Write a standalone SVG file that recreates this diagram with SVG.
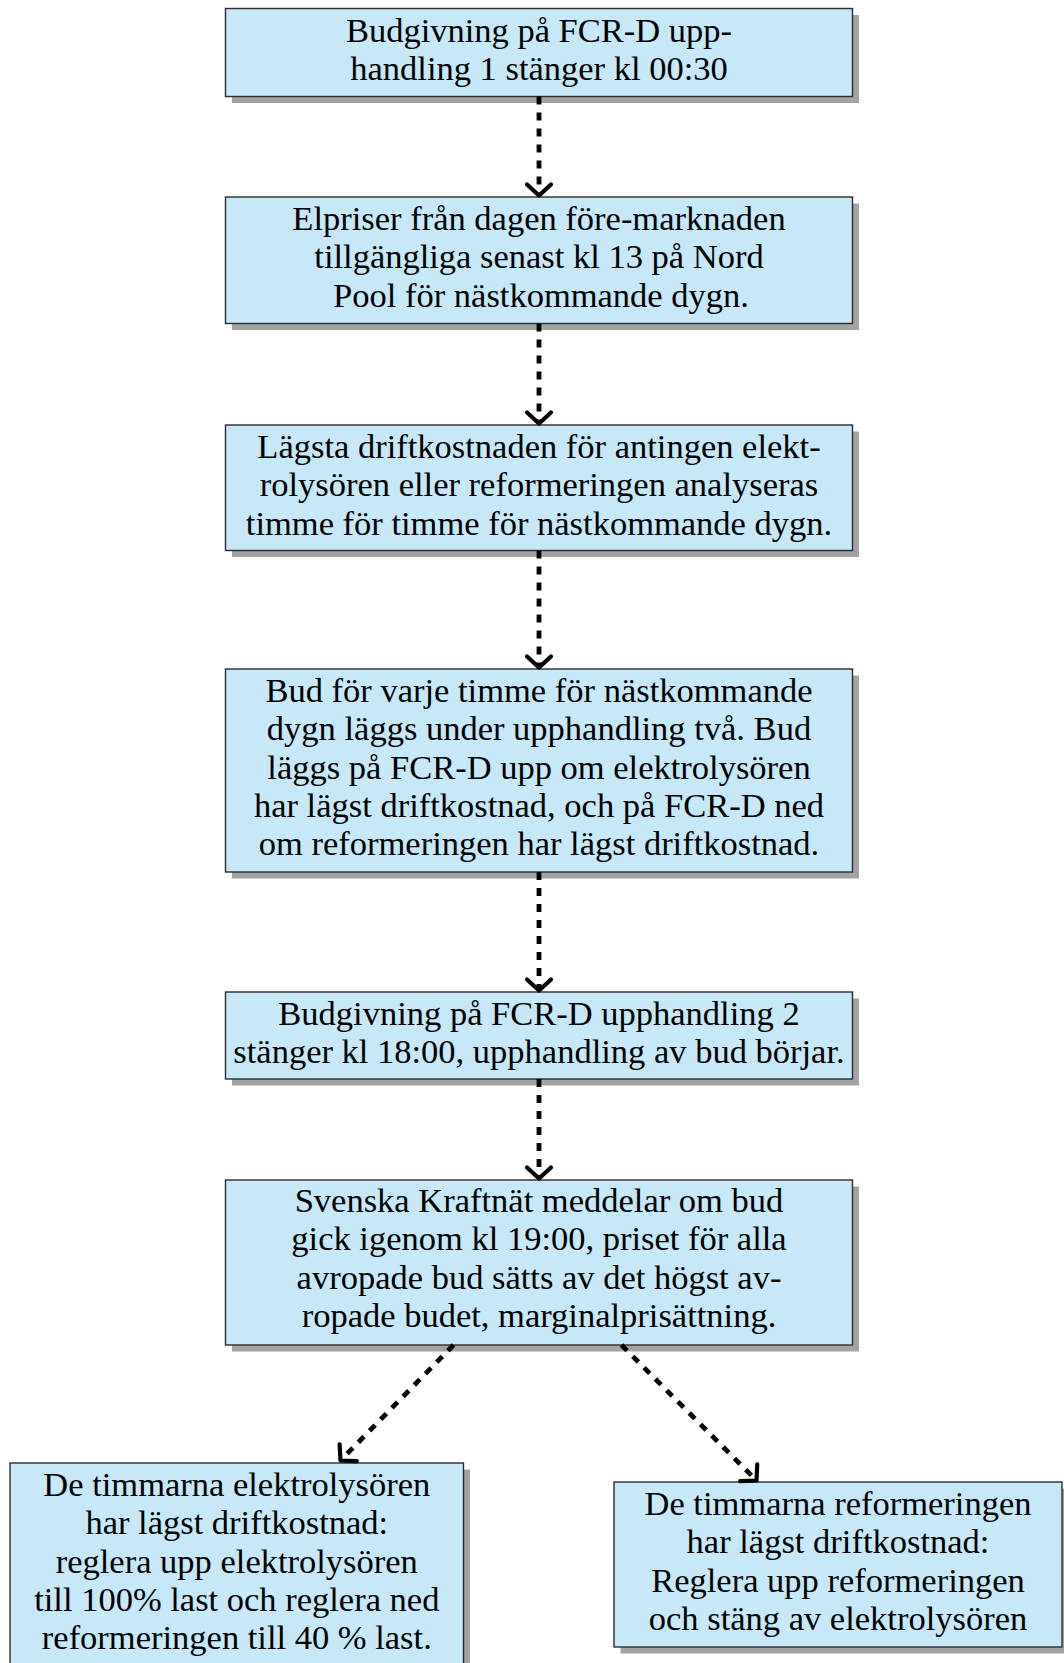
<svg xmlns="http://www.w3.org/2000/svg" width="1064" height="1663" viewBox="0 0 1064 1663">
  <style>
    .shadow { fill: #a3a3a3; }
    .box { fill: #c6e8f8; stroke: #2b2b2b; stroke-width: 1.4; }
    .label { font-family: "Liberation Serif", "Times New Roman", serif; font-size: 34.5px; fill: #000; text-anchor: middle; }
    .flow { fill: none; stroke: #000; stroke-width: 4.8; stroke-dasharray: 8 8; marker-end: url(#chev); }
  </style>
  <defs>
    <marker id="chev" markerUnits="userSpaceOnUse" markerWidth="40" markerHeight="40" refX="0" refY="0" viewBox="-20 -20 40 40" orient="auto" overflow="visible">
      <path d="M-11,-12 L0,0 L-11,12" fill="none" stroke="#000" stroke-width="4.2" stroke-linecap="round" stroke-linejoin="round"/>
    </marker>
  </defs>

  <rect width="1064" height="1663" fill="#fff"/>

  <!-- Nodes -->
  <g id="n1">
    <rect class="shadow" x="232" y="15" width="627" height="88"/>
    <rect class="box" x="225.5" y="8.5" width="627" height="88"/>
    <text class="label" x="539" y="41.5">Budgivning på FCR-D upp-</text>
    <text class="label" x="539" y="79.8">handling 1 stänger kl 00:30</text>
  </g>

  <g id="n2">
    <rect class="shadow" x="232" y="203.5" width="627" height="126.5"/>
    <rect class="box" x="225.5" y="197" width="627" height="126.5"/>
    <text class="label" x="539" y="230">Elpriser från dagen före-marknaden</text>
    <text class="label" x="539" y="268.3">tillgängliga senast kl 13 på Nord</text>
    <text class="label" x="541" y="306.6">Pool för nästkommande dygn.</text>
  </g>

  <g id="n3">
    <rect class="shadow" x="232" y="431.5" width="627" height="125.5"/>
    <rect class="box" x="225.5" y="425" width="627" height="125.5"/>
    <text class="label" x="539" y="458">Lägsta driftkostnaden för antingen elekt-</text>
    <text class="label" x="539" y="496.3">rolysören eller reformeringen analyseras</text>
    <text class="label" x="539" y="534.6">timme för timme för nästkommande dygn.</text>
  </g>

  <g id="n4">
    <rect class="shadow" x="232" y="675.5" width="627" height="203"/>
    <rect class="box" x="225.5" y="669" width="627" height="203"/>
    <text class="label" x="539" y="702">Bud för varje timme för nästkommande</text>
    <text class="label" x="539" y="740.3">dygn läggs under upphandling två. Bud</text>
    <text class="label" x="539" y="778.6">läggs på FCR-D upp om elektrolysören</text>
    <text class="label" x="539" y="816.9">har lägst driftkostnad, och på FCR-D ned</text>
    <text class="label" x="539" y="855.2">om reformeringen har lägst driftkostnad.</text>
  </g>

  <g id="n5">
    <rect class="shadow" x="232" y="998.5" width="627" height="87"/>
    <rect class="box" x="225.5" y="992" width="627" height="87"/>
    <text class="label" x="539" y="1025">Budgivning på FCR-D upphandling 2</text>
    <text class="label" x="539" y="1063.3">stänger kl 18:00, upphandling av bud börjar.</text>
  </g>

  <g id="n6">
    <rect class="shadow" x="232" y="1186.5" width="627" height="165"/>
    <rect class="box" x="225.5" y="1180" width="627" height="165"/>
    <text class="label" x="539" y="1212">Svenska Kraftnät meddelar om bud</text>
    <text class="label" x="539" y="1250.3">gick igenom kl 19:00, priset för alla</text>
    <text class="label" x="539" y="1288.6">avropade bud sätts av det högst av-</text>
    <text class="label" x="539" y="1326.9">ropade budet, marginalprisättning.</text>
  </g>

  <g id="n7">
    <rect class="shadow" x="16.5" y="1469.5" width="453.5" height="203"/>
    <rect class="box" x="10" y="1463" width="453.5" height="203"/>
    <text class="label" x="236.8" y="1496">De timmarna elektrolysören</text>
    <text class="label" x="236.8" y="1534.3">har lägst driftkostnad:</text>
    <text class="label" x="236.8" y="1572.6">reglera upp elektrolysören</text>
    <text class="label" x="236.8" y="1610.9">till 100% last och reglera ned</text>
    <text class="label" x="236.8" y="1649.2">reformeringen till 40 % last.</text>
  </g>

  <g id="n8">
    <rect class="shadow" x="620.5" y="1488.5" width="448" height="165"/>
    <rect class="box" x="614" y="1482" width="448" height="165"/>
    <text class="label" x="838" y="1515">De timmarna reformeringen</text>
    <text class="label" x="838" y="1553.3">har lägst driftkostnad:</text>
    <text class="label" x="838" y="1591.6">Reglera upp reformeringen</text>
    <text class="label" x="838" y="1629.9">och stäng av elektrolysören</text>
  </g>

  <!-- Connectors -->
  <g id="connectors">
    <line class="flow" x1="539" y1="96.5" x2="539" y2="195.5"/>
    <line class="flow" x1="539" y1="323.5" x2="539" y2="423.5"/>
    <line class="flow" x1="539" y1="550.5" x2="539" y2="667.5"/>
    <line class="flow" x1="539" y1="872" x2="539" y2="990.5"/>
    <line class="flow" x1="539" y1="1079" x2="539" y2="1178.5"/>
    <line class="flow" x1="453.5" y1="1345" x2="340.5" y2="1460.5"/>
    <line class="flow" x1="621.5" y1="1345" x2="756.5" y2="1480.5"/>
  </g>
</svg>
